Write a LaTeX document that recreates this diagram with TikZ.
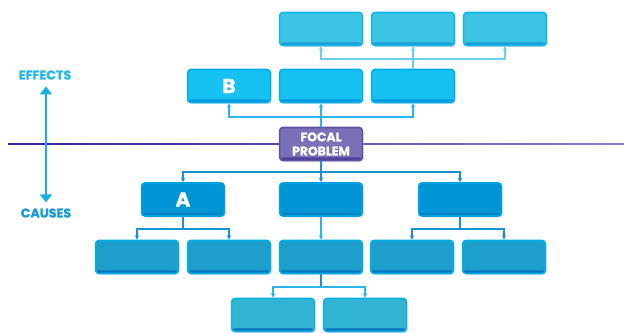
\documentclass[tikz,border=0pt]{standalone}
\usepackage{fontspec}
\setmainfont{Poppins}[BoldFeatures={FakeBold=1.3}]
\usetikzlibrary{arrows.meta,shadows}
\definecolor{topF}{HTML}{3CC4E4}\definecolor{topB}{HTML}{12B4EC}\definecolor{topD}{HTML}{1AA0D8}
\definecolor{effF}{HTML}{16C2F2}\definecolor{effB}{HTML}{00AEEE}\definecolor{effD}{HTML}{0098DC}
\definecolor{fpF}{HTML}{7A70B8}\definecolor{fpB}{HTML}{5E50A8}\definecolor{fpD}{HTML}{4E3F98}
\definecolor{c1F}{HTML}{0096D6}\definecolor{c1B}{HTML}{00A2E2}\definecolor{c1D}{HTML}{0080C6}
\definecolor{c2F}{HTML}{1E9FCB}\definecolor{c2B}{HTML}{00AEE8}\definecolor{c2D}{HTML}{0074BE}
\definecolor{c3F}{HTML}{32B5D4}\definecolor{c3B}{HTML}{0AB0E8}\definecolor{c3D}{HTML}{0070C0}
\definecolor{lnTop}{HTML}{6CCDF0}\definecolor{lnEff}{HTML}{2BB5EA}\definecolor{lnCau}{HTML}{1A92D2}
\definecolor{axisC}{HTML}{1AAEE6}\definecolor{effTxt}{HTML}{22B8EA}\definecolor{cauTxt}{HTML}{1A9AD8}
\definecolor{lineL}{HTML}{3A1E9C}\definecolor{lineR}{HTML}{8C7CC8}
\tikzset{
  bx/.style n args={3}{draw=#2, fill=#1, line width=1.2pt, rounded corners=2.5pt,
    minimum width=62pt, minimum height=24.8pt, inner sep=0pt, text=white,
    font=\bfseries\fontsize{15}{15}\selectfont,
    drop shadow={shadow xshift=1.2pt, shadow yshift=-1.2pt, fill=black!22},
    path picture={\fill[#3] ([yshift=2.4pt]path picture bounding box.south west) rectangle (path picture bounding box.south east);}},
  conn/.style={draw=#1, line width=0.8pt, -{Stealth[length=3.4pt,width=3.4pt]}},
  stem/.style={draw=#1, line width=1.1pt},
  lbl/.style={inner sep=0pt, font=\bfseries\fontsize{9.5}{9.5}\selectfont},
}
\begin{document}
\begin{tikzpicture}[x=0.75pt,y=-0.75pt]
\useasboundingbox (0,0) rectangle (624,332);
% horizontal dividing line
\shade[left color=lineL, right color=lineR] (8,143.4) rectangle (624,144.8);
% axis labels
\node[lbl, text=effTxt] (eff) at (45,75) {EFFECTS};
\node[lbl, text=cauTxt] (cau) at (46,213) {CAUSES};
\draw[axisC, line width=1.1pt, {Triangle[width=9pt,length=6pt]}-{Triangle[width=9pt,length=6pt]}]
  ([xshift=0.75pt,yshift=-5pt]eff.south) -- ([yshift=4.3pt]cau.north);
% effects
\node[bx={topF}{topB}{topD}] (t1) at (321,29) {};
\node[bx={topF}{topB}{topD}] (t2) at (413,29) {};
\node[bx={topF}{topB}{topD}] (t3) at (505,29) {};
\node[bx={effF}{effB}{effD}] (e1) at (229,86) {B};
\node[bx={effF}{effB}{effD}] (e2) at (321,86) {};
\node[bx={effF}{effB}{effD}] (e3) at (413,86) {};
% focal problem
\node[bx={fpF}{fpB}{fpD}, align=center, font=\bfseries\fontsize{9.3}{10.6}\selectfont] (fp) at (321,144) {FOCAL\\PROBLEM};
% causes
\node[bx={c1F}{c1B}{c1D}] (c1) at (183,199.5) {A};
\node[bx={c1F}{c1B}{c1D}] (c2) at (321,199.5) {};
\node[bx={c1F}{c1B}{c1D}] (c3) at (460,199.5) {};
\node[bx={c2F}{c2B}{c2D}] (d1) at (137,257) {};
\node[bx={c2F}{c2B}{c2D}] (d2) at (229,257) {};
\node[bx={c2F}{c2B}{c2D}] (d3) at (321,257) {};
\node[bx={c2F}{c2B}{c2D}] (d4) at (412,257) {};
\node[bx={c2F}{c2B}{c2D}] (d5) at (504,257) {};
\node[bx={c3F}{c3B}{c3D}] (f1) at (273,315) {};
\node[bx={c3F}{c3B}{c3D}] (f2) at (365,315) {};
% connector junctions
\coordinate (jt) at (413,59);
\coordinate (je) at (321,117);
\coordinate (jc) at (321,172);
\coordinate (ja) at (183,229);
\coordinate (jb) at (460,229);
\coordinate (jd) at (321,287);
% effects connectors
\draw[stem=lnTop] (e3.north) -- (jt);
\draw[conn=lnTop] (jt) -| (t1.south);
\draw[conn=lnTop] (jt) -- (t2.south);
\draw[conn=lnTop] (jt) -| (t3.south);
\draw[stem=lnEff] (fp.north) -- (je);
\draw[conn=lnEff] (je) -| (e1.south);
\draw[conn=lnEff] (je) -- (e2.south);
\draw[conn=lnEff] (je) -| (e3.south);
% causes connectors
\draw[stem=lnCau] (fp.south) -- (jc);
\draw[conn=lnCau] (jc) -| (c1.north);
\draw[conn=lnCau] (jc) -- (c2.north);
\draw[conn=lnCau] (jc) -| (c3.north);
\draw[stem=lnCau] (c1.south) -- (ja);
\draw[conn=lnCau] (ja) -| (d1.north);
\draw[conn=lnCau] (ja) -| (d2.north);
\draw[conn=lnEff] (c2.south) -- (d3.north);
\draw[stem=lnCau] (c3.south) -- (jb);
\draw[conn=lnCau] (jb) -| (d4.north);
\draw[conn=lnCau] (jb) -| (d5.north);
\draw[stem=lnCau] (d3.south) -- (jd);
\draw[conn=lnEff] (jd) -| (f1.north);
\draw[conn=lnEff] (jd) -| (f2.north);
\end{tikzpicture}
\end{document}
